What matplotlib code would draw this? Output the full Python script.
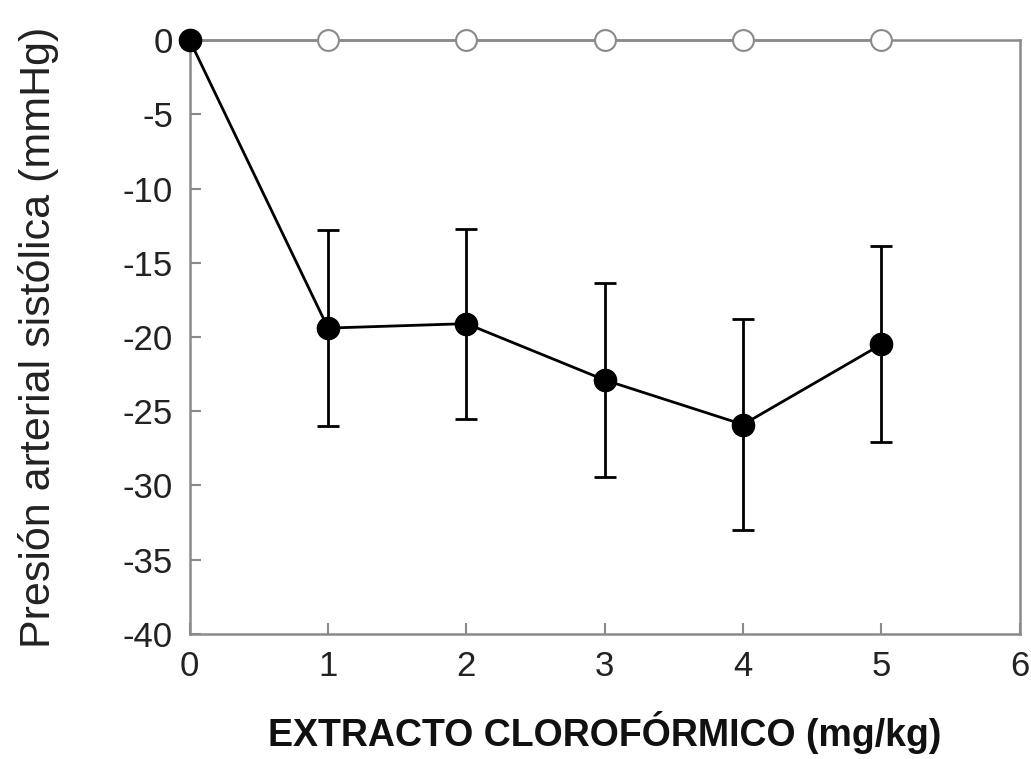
import matplotlib
matplotlib.use("Agg")
import matplotlib.pyplot as plt

dose = [0, 1, 2, 3, 4, 5]
extract_mean = [0, -19.4, -19.1, -22.9, -25.9, -20.5]
extract_err = [0, 6.6, 6.4, 6.55, 7.1, 6.6]
control_mean = [0, 0, 0, 0, 0, 0]
xticks = [0, 1, 2, 3, 4, 5, 6]
yticks = [0, -5, -10, -15, -20, -25, -30, -35, -40]

plt.rcParams['font.family'] = ['Liberation Sans', 'DejaVu Sans']

fig = plt.figure(figsize=(10.31, 7.59), dpi=100)
ax = fig.add_axes([0.184, 0.165, 0.805, 0.782])

gray = '#8a8a8a'
ax.plot(dose, control_mean, color=gray, lw=1.8, marker='o', ms=15,
        mfc='white', mec=gray, mew=1.5, clip_on=False, zorder=3)
ax.errorbar(dose, extract_mean, yerr=extract_err, color='black', lw=2,
            marker='o', ms=16, mfc='black', mec='black', capsize=8,
            capthick=2, elinewidth=2, clip_on=False, zorder=4)

ax.set_xlim(0, 6)
ax.set_ylim(-40, 0)
ax.set_xticks(xticks)
ax.set_yticks(yticks)
ax.set_yticklabels([str(v) for v in yticks])
for s in ax.spines.values():
    s.set_color(gray)
    s.set_linewidth(1.8)
ax.tick_params(direction='in', length=8, width=1.5, color=gray, labelsize=25,
               pad=12, top=False, right=False, labelcolor='#222222')
ax.set_xlabel('EXTRACTO CLOROFÓRMICO (mg/kg)', fontsize=27, fontweight='bold',
              labelpad=20, color='#111111')
ax.set_ylabel('Presión arterial sistólica (mmHg)', fontsize=31, labelpad=46,
              color='#222222')

fig.savefig('out.png', dpi=100, facecolor='white')
